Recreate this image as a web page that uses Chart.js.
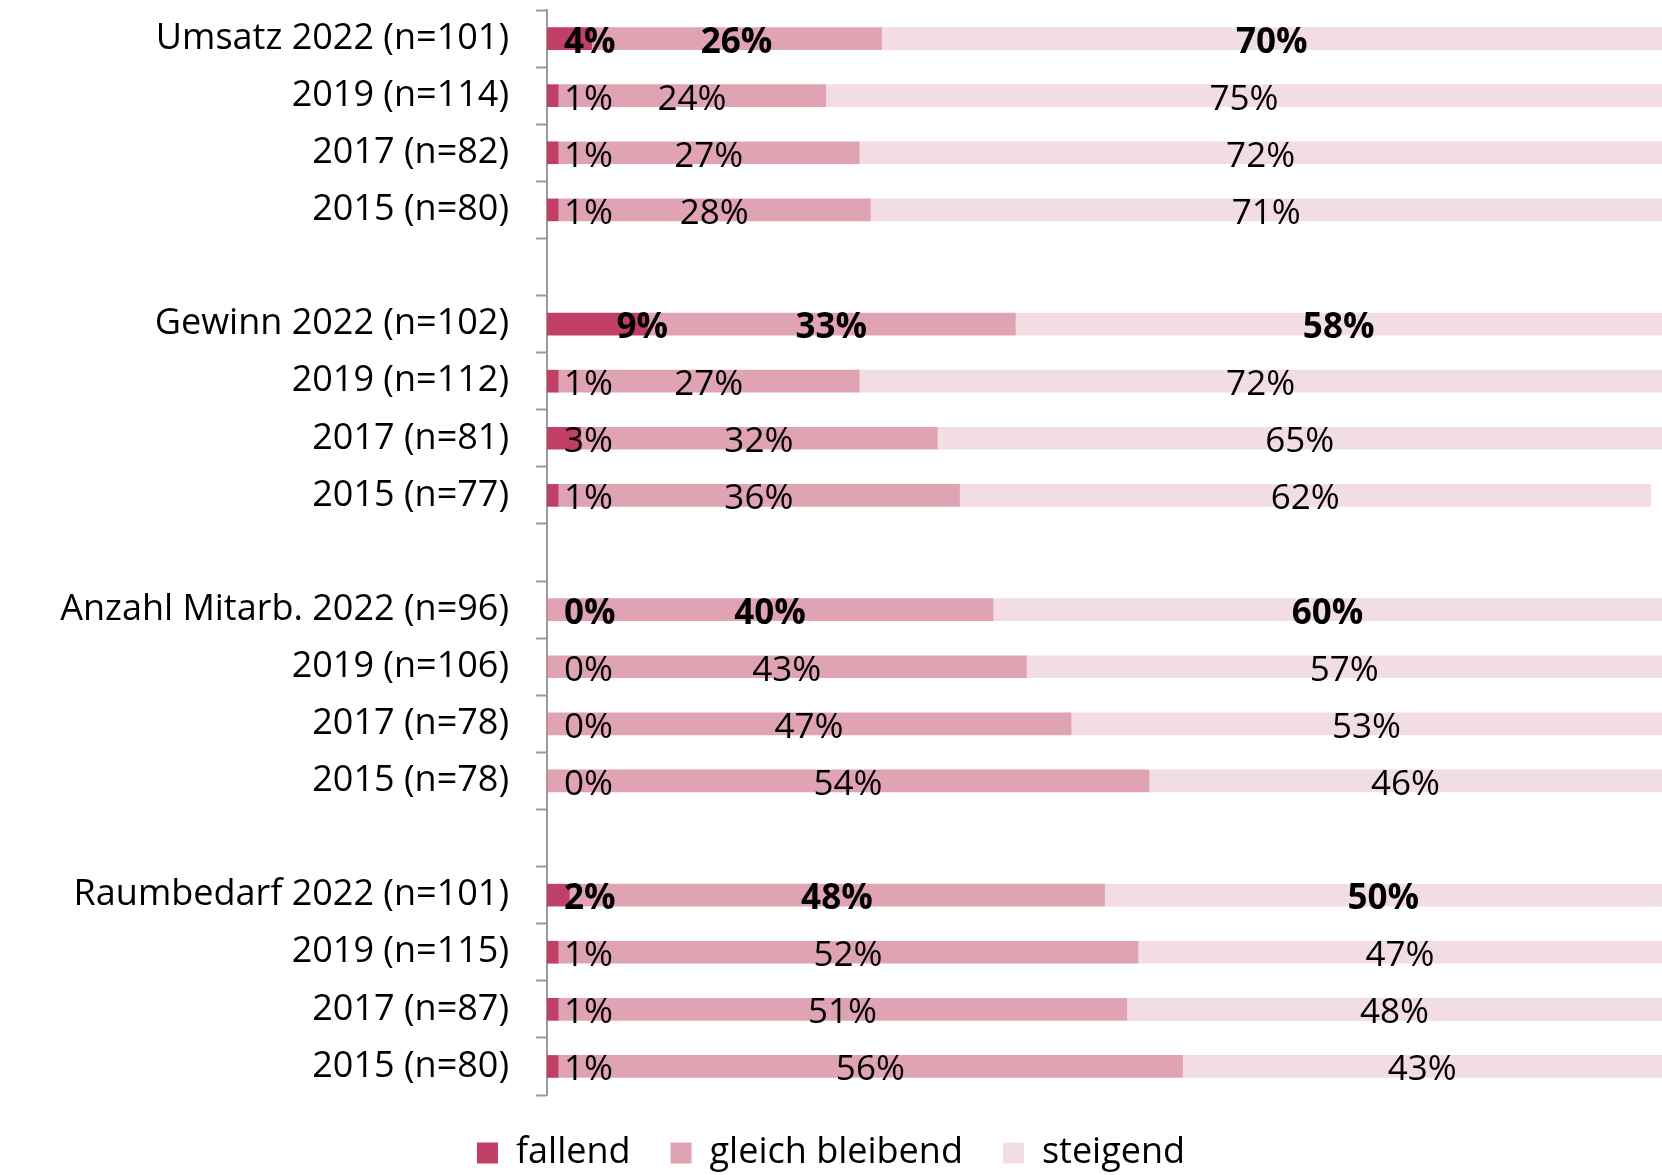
<!DOCTYPE html>
<html>
<head>
<meta charset="utf-8">
<script src="https://cdn.jsdelivr.net/npm/chart.js@4/dist/chart.umd.min.js"></script>
<style>
html,body{margin:0;padding:0;background:#fff;overflow:hidden;}
#wrap{width:1662px;height:1175px;position:relative;}
</style>
</head>
<body>
<div id="wrap"><canvas id="c" width="1662" height="1175"></canvas></div>
<script>
const categories = [
  'Umsatz 2022 (n=101)', '2019 (n=114)', '2017 (n=82)', '2015 (n=80)', '',
  'Gewinn 2022 (n=102)', '2019 (n=112)', '2017 (n=81)', '2015 (n=77)', '',
  'Anzahl Mitarb. 2022 (n=96)', '2019 (n=106)', '2017 (n=78)', '2015 (n=78)', '',
  'Raumbedarf 2022 (n=101)', '2019 (n=115)', '2017 (n=87)', '2015 (n=80)'
];
const seriesNames = ['fallend', 'gleich bleibend', 'steigend'];
const fallend = [4, 1, 1, 1, null, 9, 1, 3, 1, null, 0, 0, 0, 0, null, 2, 1, 1, 1];
const gleichBleibend = [26, 24, 27, 28, null, 33, 27, 32, 36, null, 40, 43, 47, 54, null, 48, 52, 51, 56];
const steigend = [70, 75, 72, 71, null, 58, 72, 65, 62, null, 60, 57, 53, 46, null, 50, 47, 48, 43];
const colors = ['#BF3F66', '#E0A3B4', '#F2DDE3'];

const FONT = '"Open Sans", Lato, sans-serif';

const labelPlugin = {
  id: 'segLabels',
  afterDatasetsDraw(chart) {
    const ctx = chart.ctx;
    const left = chart.chartArea.left;
    ctx.save();
    ctx.fillStyle = '#000';
    ctx.textBaseline = 'middle';
    ctx.textAlign = 'center';
    chart.data.datasets.forEach((ds, di) => {
      const meta = chart.getDatasetMeta(di);
      meta.data.forEach((bar, i) => {
        const v = ds.data[i];
        if (v === null || v === undefined) return;
        const bold = categories[i].indexOf('2022') >= 0;
        ctx.font = (bold ? 'bold ' : 'normal ') + '35px ' + FONT;
        const txt = v + '%';
        const w = ctx.measureText(txt).width;
        let x;
        if (di === 0) {
          x = Math.max(bar.x - 5, left + 17 + w / 2);
        } else {
          x = (bar.x + bar.base) / 2;
        }
        ctx.fillText(txt, x, bar.y + 4);
      });
    });
    ctx.restore();
  }
};

new Chart(document.getElementById('c'), {
  type: 'bar',
  data: {
    labels: categories,
    datasets: [
      { label: seriesNames[0], data: fallend, backgroundColor: colors[0] },
      { label: seriesNames[1], data: gleichBleibend, backgroundColor: colors[1] },
      { label: seriesNames[2], data: steigend, backgroundColor: colors[2] }
    ]
  },
  options: {
    indexAxis: 'y',
    responsive: false,
    animation: false,
    devicePixelRatio: 1,
    layout: { padding: { top: 10, right: 0, left: 0, bottom: -6 } },
    datasets: { bar: { barThickness: 22, borderWidth: 0 } },
    scales: {
      x: { stacked: true, min: 0, max: 100, display: false },
      y: {
        stacked: true,
        afterFit(scale) { scale.width = 547; },
        border: { display: true, color: '#9a9a9a', width: 2 },
        grid: {
          display: true, drawOnChartArea: false, drawTicks: true,
          tickLength: 34, tickBorderDash: [0, 23, 11, 200],
          tickColor: '#9a9a9a', tickWidth: 2, offset: true
        },
        ticks: { color: '#000', font: { family: FONT, size: 36, weight: 'normal', lineHeight: 0.3 }, padding: 4, autoSkip: false }
      }
    },
    plugins: {
      legend: {
        position: 'bottom',
        labels: {
          color: '#000',
          font: { family: FONT, size: 36, weight: 'normal' },
          boxWidth: 21, boxHeight: 21,
          padding: 40
        }
      },
      tooltip: { enabled: false }
    }
  },
  plugins: [labelPlugin]
});
</script>
</body>
</html>
